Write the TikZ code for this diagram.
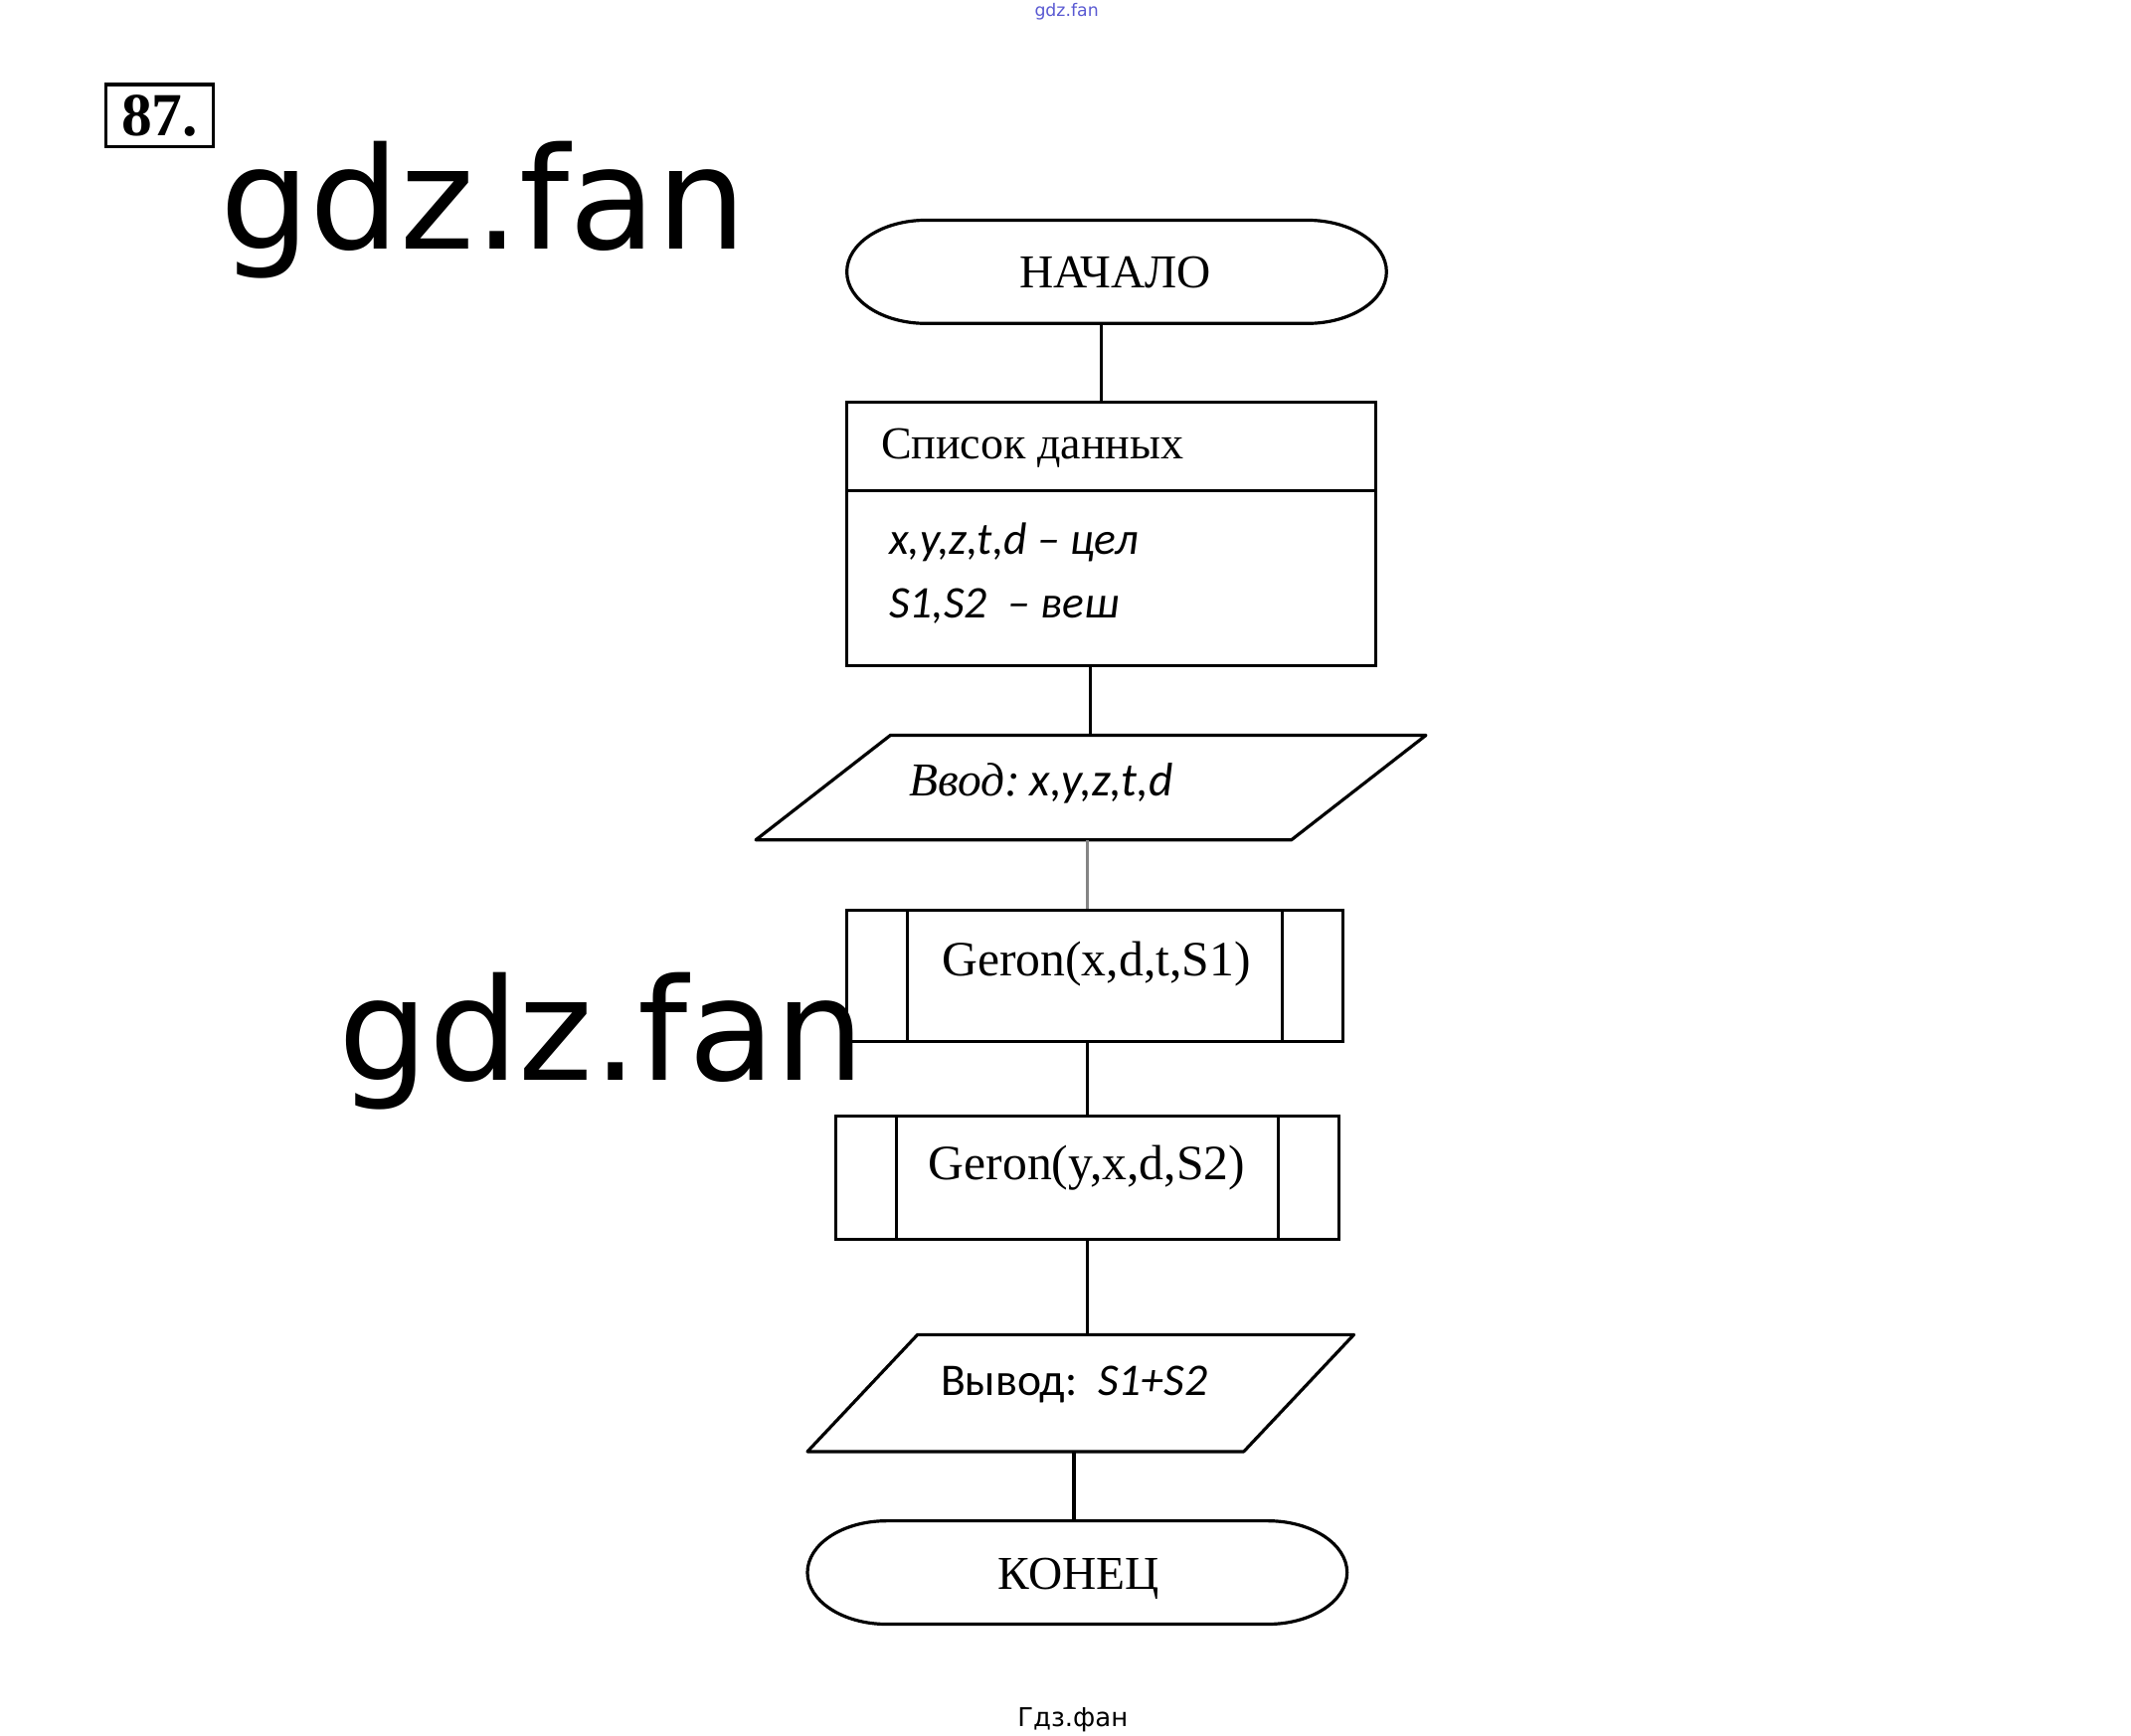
\documentclass[tikz,border=0pt]{standalone}
\usepackage{fontspec}
\setmainfont{Liberation Serif}
\setsansfont{Carlito}
\newfontfamily\wmfont{DejaVu Sans}
\usetikzlibrary{positioning}
\definecolor{wmblue}{HTML}{5A5AD2}
\definecolor{scangray}{HTML}{858585}

\begin{document}
\begin{tikzpicture}[x=0.3pt, y=-0.3pt, line width=0.7pt,
  term/.style={rectangle, minimum width=119.1pt, minimum height=22.8pt, inner sep=0pt, outer sep=0pt},
  databox/.style={rectangle, draw, minimum width=116.7pt, minimum height=58.2pt, inner sep=0pt},
  iobox/.style={rectangle, inner sep=0pt, outer sep=0pt, minimum height=23.1pt},
  procbox/.style={rectangle, draw, inner sep=0pt, path picture={
      \draw[line width=0.7pt] ([xshift=13.35pt]path picture bounding box.north west) -- ([xshift=13.35pt]path picture bounding box.south west);
      \draw[line width=0.7pt] ([xshift=-13.35pt]path picture bounding box.north east) -- ([xshift=-13.35pt]path picture bounding box.south east);}},
  sertxt/.style={inner sep=0pt, font=\fontsize{10.4pt}{12pt}\selectfont},
  sanstxt/.style={inner sep=0pt, font=\sffamily\fontsize{10pt}{12pt}\selectfont},
  wmtxt/.style={inner sep=0pt, anchor=base west},
  link/.style={draw, line width=0.7pt}]
\useasboundingbox (0,0) rectangle (1567.7,1277.2);

% shapes of the flowchart
\node[term] (nachalo) at (821.5,200) {};
\node[databox] (spisok) at (817.5,393) {};
\node[iobox, minimum width=118.2pt] (vvod) at (802.5,579.5) {};
\node[procbox, minimum width=109.5pt, minimum height=28.8pt] (geron1) at (805.5,718) {};
\node[procbox, minimum width=111pt, minimum height=27.3pt] (geron2) at (800,866.5) {};
\node[iobox, minimum width=96.3pt, minimum height=25.8pt] (vyvod) at (795,1025) {};
\node[term] (konets) at (792.5,1157) {};

\foreach \t in {nachalo, konets}
  \draw[line join=round] ([xshift=17.5pt]\t.north west) -- ([xshift=-17.5pt]\t.north east)
    arc[start angle=90, end angle=-90, x radius=17.5pt, y radius=11.4pt]
    -- ([xshift=17.5pt]\t.south west)
    arc[start angle=270, end angle=90, x radius=17.5pt, y radius=11.4pt] -- cycle;
\draw ([yshift=-19.8pt]spisok.north west) -- ([yshift=-19.8pt]spisok.north east);
\draw[line join=round] ([xshift=14.85pt]vvod.north west) -- ([xshift=14.85pt]vvod.north east)
  -- ([xshift=-14.85pt]vvod.south east) -- ([xshift=-14.85pt]vvod.south west) -- cycle;
\draw[line join=round] ([xshift=12.15pt]vyvod.north west) -- ([xshift=12.15pt]vyvod.north east)
  -- ([xshift=-12.15pt]vyvod.south east) -- ([xshift=-12.15pt]vyvod.south west) -- cycle;

% texts
\node[sertxt, anchor=base] (nachalotxt) at (820.5,211.6) {НАЧАЛО};
\node[sertxt, anchor=base west, font=\fontsize{10.1pt}{12pt}\selectfont] (spisoktxt) at (647,337.7) {Список данных};
\node[sanstxt, anchor=base west] (celtxt) at (653,408) {\itshape x,y,z,t,d – цел};
\node[sanstxt, anchor=base west] (vestxt) at (653,455) {\itshape S1,S2\ \ – веш};
\node[sertxt, anchor=base west] (vvodtxt) at (668,585.7) {\itshape Ввод:\hspace{2pt}{\sffamily x,y,z,t,d}};
\node[sertxt, anchor=base, font=\fontsize{10.9pt}{12pt}\selectfont] (geron1txt) at (806.5,718) {Geron(x,d,t,S1)};
\node[sertxt, anchor=base, font=\fontsize{10.9pt}{12pt}\selectfont] (geron2txt) at (799.5,868) {Geron(y,x,d,S2)};
\node[sanstxt, anchor=base west] (vyvodtxt) at (691,1026.6) {Вывод:\ \ \textit{S1+S2}};
\node[sertxt, anchor=base] (konetstxt) at (793.5,1169.2) {КОНЕЦ};

% connectors
\draw[link] ([xshift=-3.45pt]nachalo.south) -- ([xshift=-3.45pt]nachalo.south |- spisok.north);
\draw[link] ([xshift=-4.65pt]spisok.south) -- ([xshift=-4.65pt]spisok.south |- vvod.north);
\draw[link, scangray] ([xshift=-0.75pt]vvod.south) -- ([xshift=-0.75pt]vvod.south |- geron1.north);
\draw[link] ([xshift=-1.65pt]geron1.south) -- ([xshift=-1.65pt]geron1.south |- geron2.north);
\draw[link] (geron2.south) -- (geron2.south |- vyvod.north);
\draw[link] ([xshift=-1.5pt]vyvod.south) -- ([xshift=-1.5pt]vyvod.south |- konets.north);

% number and watermarks
\node[draw, line width=0.8pt, minimum width=23.7pt, minimum height=13.8pt, inner sep=0pt,
  font=\bfseries\fontsize{13.5pt}{14pt}\selectfont] (numbox) at (117.5,85) {87.};
\node[wmtxt, text=wmblue, font=\wmfont\fontsize{3.8pt}{4pt}\selectfont] (wmtop) at (760,12.2) {gdz.fan};
\node[wmtxt, font=\wmfont\fontsize{31.3pt}{32pt}\selectfont] (wmone) at (160.8,182.9) {gdz.fan};
\node[wmtxt, font=\wmfont\fontsize{31.3pt}{32pt}\selectfont] (wmtwo) at (248,795) {gdz.fan};
\node[wmtxt, font=\wmfont\fontsize{5.7pt}{6pt}\selectfont] (wmbottom) at (747.4,1270.4) {Гдз.фан};
\end{tikzpicture}
\end{document}
